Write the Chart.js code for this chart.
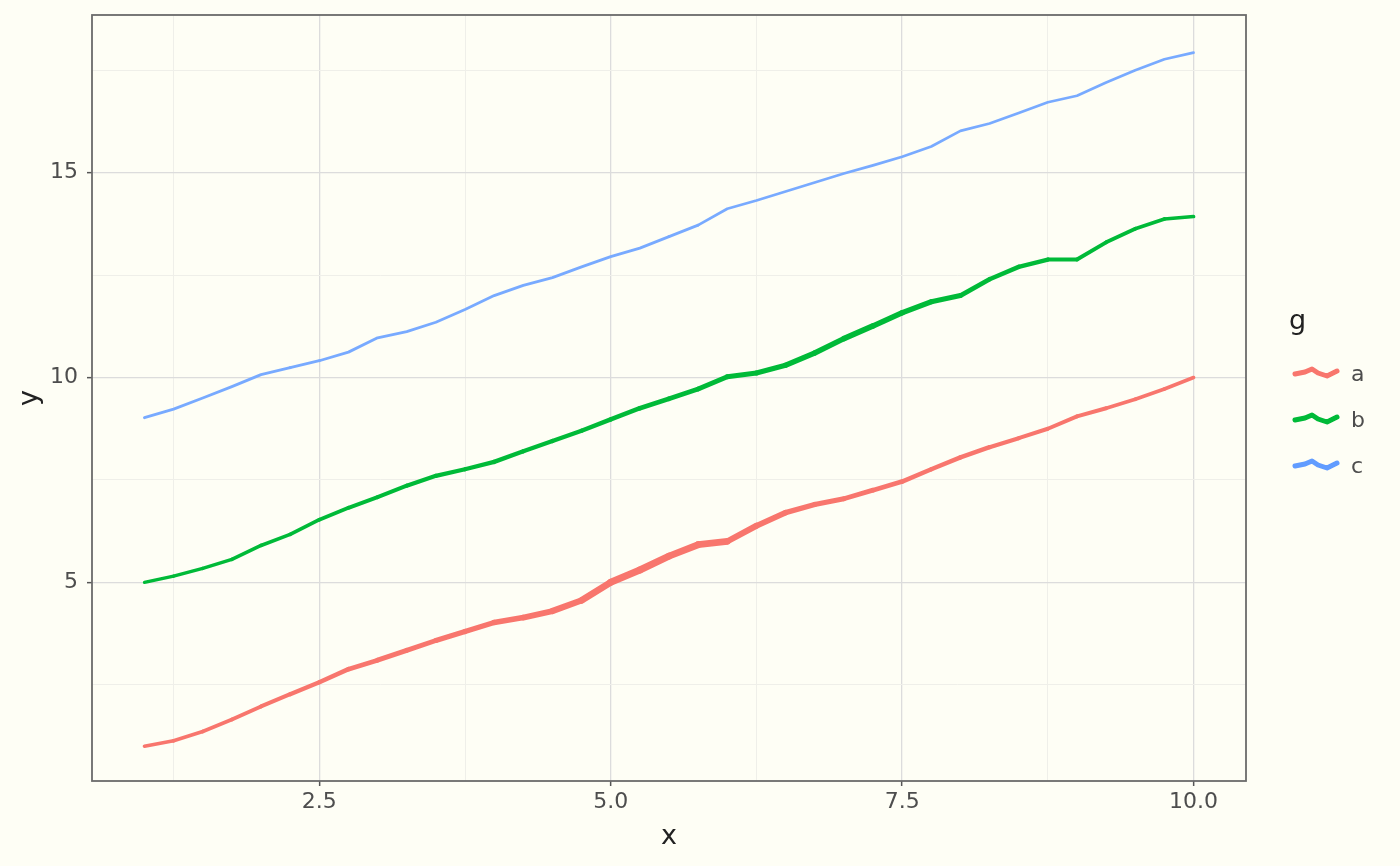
<!DOCTYPE html>
<html>
<head>
<meta charset="utf-8">
<script src="https://cdn.jsdelivr.net/npm/chart.js@4/dist/chart.umd.min.js"></script>
<style>
  html, body { margin: 0; padding: 0; background: #FEFEF5; }
  #wrap { width: 1400px; height: 866px; }
</style>
</head>
<body>
<div id="wrap"><canvas id="c" width="1400" height="866"></canvas></div>
<script>
// ---- data ----
const xValues = [1.0,1.25,1.5,1.75,2.0,2.25,2.5,2.75,3.0,3.25,3.5,3.75,4.0,4.25,4.5,4.75,5.0,5.25,5.5,5.75,6.0,6.25,6.5,6.75,7.0,7.25,7.5,7.75,8.0,8.25,8.5,8.75,9.0,9.25,9.5,9.75,10.0];
const groups = ['a', 'b', 'c'];
const yA = [1.0,1.13,1.36,1.65,1.97,2.27,2.56,2.88,3.1,3.34,3.58,3.8,4.02,4.14,4.3,4.56,5.0,5.3,5.64,5.92,6.0,6.38,6.7,6.9,7.04,7.25,7.46,7.76,8.05,8.3,8.52,8.75,9.05,9.25,9.47,9.72,10.0];
const yB = [5.0,5.15,5.34,5.56,5.9,6.17,6.53,6.82,7.08,7.36,7.6,7.76,7.94,8.2,8.45,8.7,8.98,9.25,9.48,9.72,10.02,10.11,10.3,10.6,10.95,11.26,11.58,11.85,12.0,12.4,12.7,12.88,12.88,13.3,13.63,13.87,13.93];
const yC = [9.02,9.23,9.5,9.78,10.07,10.24,10.41,10.62,10.97,11.12,11.35,11.66,12.0,12.25,12.44,12.7,12.95,13.16,13.44,13.72,14.12,14.32,14.54,14.76,14.98,15.18,15.39,15.64,16.02,16.2,16.46,16.72,16.88,17.2,17.5,17.77,17.93];
// size variable (mapped to line width)
const sizeA = [1.75,1.8,1.85,1.95,2.0,2.1,2.2,2.3,2.4,2.45,2.5,2.6,2.7,2.85,3.05,3.25,3.45,3.55,3.55,3.4,3.2,2.95,2.75,2.6,2.5,2.4,2.3,2.25,2.2,2.15,2.05,2.0,2.0,1.95,1.9,1.85,1.8];
const sizeB = [1.6,1.65,1.7,1.75,1.8,1.85,1.9,1.95,2.0,2.05,2.1,2.15,2.15,2.2,2.2,2.25,2.25,2.3,2.35,2.4,2.45,2.5,2.6,2.7,2.8,2.8,2.75,2.6,2.45,2.3,2.2,2.1,2.0,1.95,1.9,1.85,1.8];
const sizeC = [1.45,1.45,1.45,1.45,1.45,1.45,1.4,1.4,1.4,1.4,1.4,1.4,1.4,1.4,1.4,1.4,1.4,1.4,1.4,1.35,1.35,1.35,1.35,1.35,1.35,1.35,1.35,1.35,1.35,1.35,1.35,1.35,1.35,1.35,1.35,1.35,1.35];
const xTicks = [1.25, 2.5, 3.75, 5.0, 6.25, 7.5, 8.75, 10.0];
const yTicks = [2.5, 5, 7.5, 10, 12.5, 15, 17.5];
const xMajor = [2.5, 5.0, 7.5, 10.0];
const yMajor = [5, 10, 15];

// ---- styling ----
const BG = '#FEFEF5';
const lineColors = ['#F8766D', '#00BA38', '#78AAFF'];
const keyColors = ['#F8766D', '#00BA38', '#619CFF'];
const sizeToPx = s => s * 2;
const FONT = "'DejaVu Sans', 'Liberation Sans', sans-serif";
const TICK_SIZE = 22;
const TITLE_SIZE = 27;

const yData = [yA, yB, yC];
const sizes = [sizeA, sizeB, sizeC];

const datasets = groups.map((g, i) => ({
  label: g,
  data: xValues.map((x, j) => ({ x: x, y: yData[i][j] })),
  borderColor: lineColors[i],
  backgroundColor: lineColors[i],
  borderWidth: sizeToPx(sizes[i][0]),
  pointRadius: 0,
  pointHoverRadius: 0,
  tension: 0,
  fill: false,
  borderCapStyle: 'round',
  borderJoinStyle: 'round',
  segment: {
    borderWidth: ctx => sizeToPx((sizes[i][ctx.p0DataIndex] + sizes[i][ctx.p1DataIndex]) / 2)
  }
}));

const bgPlugin = {
  id: 'bg',
  beforeDraw(chart) {
    const c = chart.ctx;
    c.save();
    c.fillStyle = BG;
    c.fillRect(0, 0, chart.width, chart.height);
    c.restore();
  }
};

const frameLegendPlugin = {
  id: 'frameLegend',
  afterDraw(chart) {
    const c = chart.ctx;
    const a = chart.chartArea;
    c.save();
    c.strokeStyle = '#6B6B6B';
    c.lineWidth = 1.8;
    c.strokeRect(a.left, a.top, a.right - a.left, a.bottom - a.top);

    // legend
    c.fillStyle = '#222222';
    c.font = TITLE_SIZE + 'px ' + FONT;
    c.textBaseline = 'middle';
    c.textAlign = 'left';
    c.fillText('g', 1289, 322);
    const rowY = [374, 420, 466];
    const wave = [[0, 0], [10, -2], [17, -5], [23, -1], [32, 2], [42, -3]];
    chart.data.datasets.forEach((ds, i) => {
      const y0 = rowY[i];
      const x0 = 1295;
      c.beginPath();
      wave.forEach((p, k) => {
        if (k === 0) c.moveTo(x0 + p[0], y0 + p[1]);
        else c.lineTo(x0 + p[0], y0 + p[1]);
      });
      c.strokeStyle = keyColors[i];
      c.lineWidth = 5;
      c.lineCap = 'round';
      c.lineJoin = 'round';
      c.stroke();
      c.fillStyle = '#4D4D4D';
      c.font = TICK_SIZE + 'px ' + FONT;
      c.fillText(ds.label, 1351, y0 + 1);
    });
    c.restore();
  }
};

const isIn = (arr, v) => arr.some(m => Math.abs(m - v) < 1e-9);

new Chart(document.getElementById('c'), {
  type: 'line',
  data: { datasets },
  options: {
    responsive: false,
    animation: false,
    devicePixelRatio: 1,
    layout: { padding: { left: 0, top: 15, right: 154, bottom: 0 } },
    plugins: { legend: { display: false }, tooltip: { enabled: false } },
    scales: {
      x: {
        type: 'linear',
        min: 0.55,
        max: 10.45,
        afterBuildTicks: s => { s.ticks = xTicks.map(v => ({ value: v })); },
        afterFit: s => { s.height = 85; s.paddingLeft = 0; s.paddingRight = 0; },
        ticks: {
          autoSkip: false,
          maxRotation: 0,
          padding: 3,
          color: '#4D4D4D',
          font: { family: FONT, size: TICK_SIZE },
          callback: v => isIn(xMajor, v) ? v.toFixed(1) : ''
        },
        grid: {
          color: ctx => isIn(xMajor, ctx.tick.value) ? '#DCDCDC' : '#EFEFE9',
          lineWidth: ctx => isIn(xMajor, ctx.tick.value) ? 1.3 : 1,
          tickColor: ctx => isIn(xMajor, ctx.tick.value) ? '#555555' : 'rgba(0,0,0,0)',
          tickLength: 5,
          tickWidth: 1.5
        },
        border: { display: false },
        title: {
          display: true,
          text: 'x',
          color: '#222222',
          font: { family: FONT, size: TITLE_SIZE },
          padding: { top: 0, bottom: 13 }
        }
      },
      y: {
        type: 'linear',
        min: 0.15,
        max: 18.85,
        afterBuildTicks: s => { s.ticks = yTicks.map(v => ({ value: v })); },
        afterFit: s => { s.width = 92; s.paddingTop = 0; s.paddingBottom = 0; },
        ticks: {
          autoSkip: false,
          padding: 9,
          color: '#4D4D4D',
          font: { family: FONT, size: TICK_SIZE },
          callback: v => isIn(yMajor, v) ? String(v) : ''
        },
        grid: {
          color: ctx => isIn(yMajor, ctx.tick.value) ? '#DCDCDC' : '#EFEFE9',
          lineWidth: ctx => isIn(yMajor, ctx.tick.value) ? 1.3 : 1,
          tickColor: ctx => isIn(yMajor, ctx.tick.value) ? '#555555' : 'rgba(0,0,0,0)',
          tickLength: 5,
          tickWidth: 1.5
        },
        border: { display: false },
        title: {
          display: true,
          text: 'y',
          color: '#222222',
          font: { family: FONT, size: TITLE_SIZE },
          padding: { top: 14, bottom: 0 }
        }
      }
    }
  },
  plugins: [bgPlugin, frameLegendPlugin]
});
</script>
</body>
</html>
